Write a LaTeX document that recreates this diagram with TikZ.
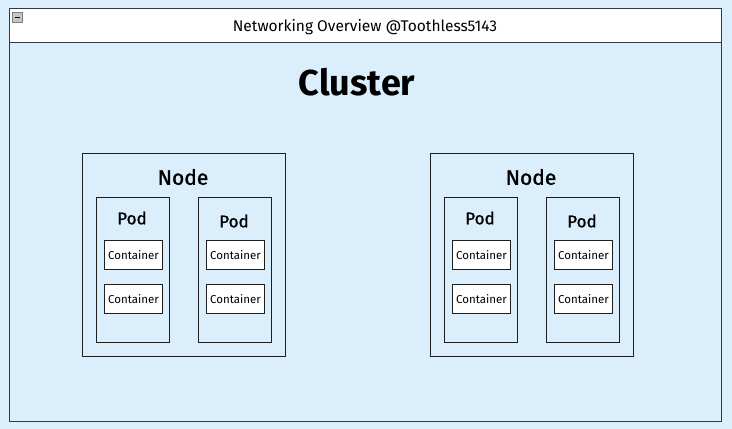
\documentclass[tikz,border=0pt]{standalone}
\usepackage{fontspec}
\setmainfont{Fira Sans}
\newfontfamily\headfont[FakeBold=1.2]{Fira Sans}
\usetikzlibrary{positioning}
\definecolor{cBack}{HTML}{DAEEFC}
\definecolor{cLine}{HTML}{1E1E1E}
\definecolor{cFrame}{HTML}{2F3A45}
\tikzset{
  frame/.style={draw=cFrame, line width=1.2pt},
  nodebox/.style={draw=cLine, line width=1.1pt, anchor=north west, inner sep=0pt,
                  minimum width=203pt, minimum height=203pt},
  podbox/.style={draw=cLine, line width=1.1pt, anchor=north west, inner sep=0pt,
                 minimum width=73pt, minimum height=145pt},
  ctrbox/.style={draw=cLine, line width=1.1pt, fill=white, anchor=north west, inner sep=0pt,
                 minimum width=58pt, minimum height=29pt, font=\fontsize{11.5}{13}\selectfont},
  ttl/.style={font=\fontsize{15.5}{17}\selectfont, text=black},
  bigttl/.style={font=\fontsize{36}{40}\bfseries\selectfont, text=black},
  nodettl/.style={font=\headfont\fontsize{21}{24}\selectfont, text=black},
  podttl/.style={font=\headfont\fontsize{17}{20}\selectfont, text=black}
}
\begin{document}
\begin{tikzpicture}[x=1pt, y=-1pt]
\fill[cBack] (0,0) rectangle (732,429);
\useasboundingbox (0,0) rectangle (732,429);
% cluster frame and header
\node[frame, fill=cBack, anchor=north west, inner sep=0pt, minimum width=712pt, minimum height=413pt] (cluster) at (9,8) {};
\node[frame, fill=white, anchor=north west, inner sep=0pt, minimum width=712pt, minimum height=34pt] (header) at (9,8) {};
\node[draw=gray, fill=gray!45, inner sep=0pt, minimum size=10pt] (collapse) at (17.5,17.5) {};
\draw[thick] ([xshift=-2.5pt]collapse.center) -- ([xshift=2.5pt]collapse.center);
\node[ttl] (title) at (365,27) {Networking Overview @Toothless5143};
\node[bigttl] (clusterlbl) at (357,82) {Cluster};
% left node
\node[nodebox] (nodeA) at (82,153) {};
\node[nodettl] at (183,177) {Node};
\node[podbox] (podA1) at (96,197) {};
\node[podttl] at (132,218) {Pod};
\node[ctrbox] (ctrA11) at (104,240) {Container};
\node[ctrbox] (ctrA12) at (104,284) {Container};
\node[podbox] (podA2) at (198,197) {};
\node[podttl] at (234,221) {Pod};
\node[ctrbox] (ctrA21) at (206,240) {Container};
\node[ctrbox] (ctrA22) at (206,284) {Container};
% right node
\node[nodebox] (nodeB) at (430,153) {};
\node[nodettl] at (531,177) {Node};
\node[podbox] (podB1) at (444,197) {};
\node[podttl] at (480,218) {Pod};
\node[ctrbox] (ctrB11) at (452,240) {Container};
\node[ctrbox] (ctrB12) at (452,284) {Container};
\node[podbox] (podB2) at (546,197) {};
\node[podttl] at (582,221) {Pod};
\node[ctrbox] (ctrB21) at (554,240) {Container};
\node[ctrbox] (ctrB22) at (554,284) {Container};
\end{tikzpicture}
\end{document}
